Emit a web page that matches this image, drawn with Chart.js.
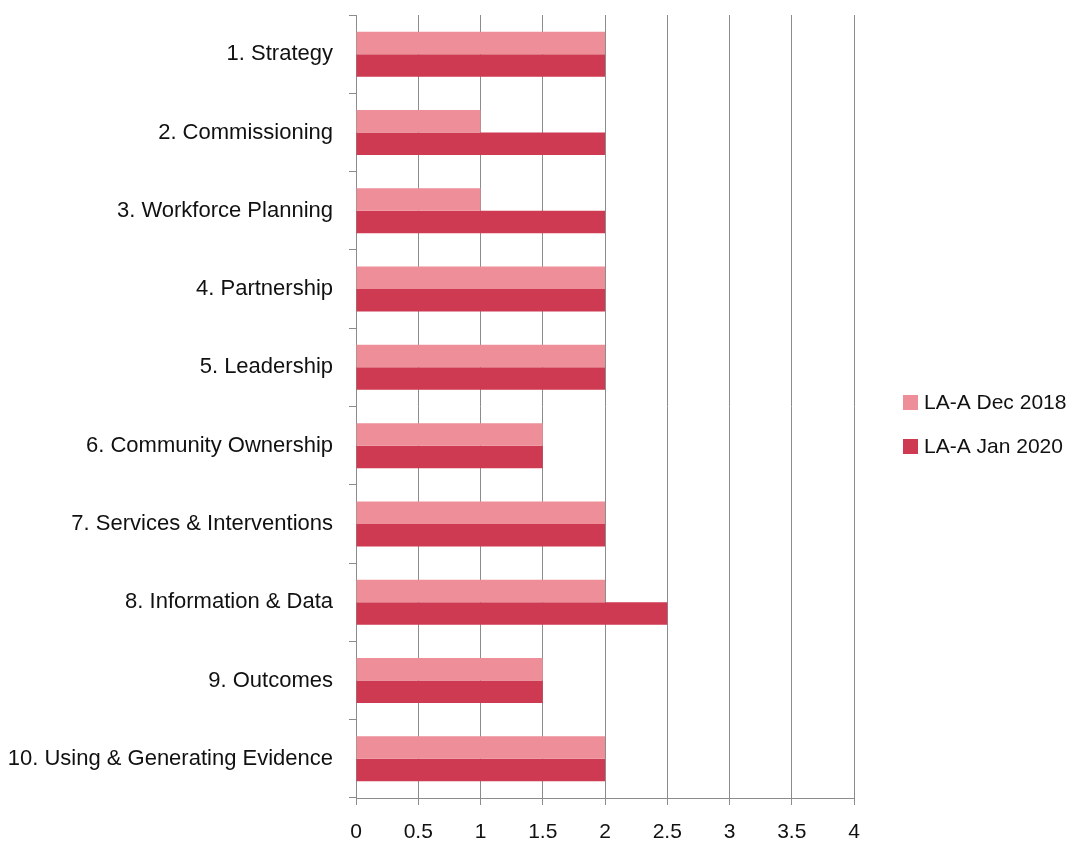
<!DOCTYPE html>
<html>
<head>
<meta charset="utf-8">
<script src="https://cdn.jsdelivr.net/npm/chart.js@4"></script>
<style>
  html, body { margin: 0; padding: 0; background: #fff; }
  #wrap { width: 1072px; height: 846px; }
</style>
</head>
<body>
<div id="wrap"><canvas id="barChartCanvas" width="1072" height="846"></canvas></div>
<script>
// categories and scores
var categories = [
  '1. Strategy',
  '2. Commissioning',
  '3. Workforce Planning',
  '4. Partnership',
  '5. Leadership',
  '6. Community Ownership',
  '7. Services & Interventions',
  '8. Information & Data',
  '9. Outcomes',
  '10. Using & Generating Evidence'
];
var dec2018 = [2, 1, 1, 2, 2, 1.5, 2, 2, 1.5, 2];
var jan2020 = [2, 2, 2, 2, 2, 1.5, 2, 2.5, 1.5, 2];
var seriesNames = ['LA-A Dec 2018', 'LA-A Jan 2020'];
var seriesColors = ['#ee8e98', '#ce3a52'];

var FONT = "'Liberation Sans', Arial, sans-serif";
var gridGrey = '#8c8c8c';
var textColor = '#111';

// legend drawn to the right of the plot, like the original (Excel style)
var sideLegend = {
  id: 'sideLegend',
  afterDraw: function (chart, args, opts) {
    var c = chart.ctx;
    var area = chart.chartArea;
    var x = area.right + opts.gap;
    var y0 = (area.top + area.bottom) / 2 - 4;
    c.save();
    c.font = opts.fontSize + 'px ' + FONT;
    c.textBaseline = 'middle';
    c.textAlign = 'left';
    chart.data.datasets.forEach(function (ds, i) {
      var y = y0 + i * opts.spacing;
      c.fillStyle = ds.backgroundColor;
      c.fillRect(x, y - opts.box / 2, opts.box, opts.box);
      c.fillStyle = textColor;
      c.fillText(ds.label, x + opts.box + 6, y + 1);
    });
    c.restore();
  }
};

var ctx = document.getElementById('barChartCanvas').getContext('2d');

var barChart = new Chart(ctx, {
  type: 'bar',
  data: {
    labels: categories,
    datasets: [{
      label: seriesNames[0],
      data: dec2018,
      backgroundColor: seriesColors[0],
      categoryPercentage: 0.575,
      barPercentage: 1.0
    }, {
      label: seriesNames[1],
      data: jan2020,
      backgroundColor: seriesColors[1],
      categoryPercentage: 0.575,
      barPercentage: 1.0
    }]
  },
  plugins: [sideLegend],
  options: {
    indexAxis: 'y',
    responsive: false,
    animation: false,
    maintainAspectRatio: false,
    layout: {
      padding: { top: 15, left: 0, right: 218, bottom: 0 }
    },
    plugins: {
      tooltip: { enabled: false },
      legend: { display: false },
      sideLegend: { gap: 49, spacing: 44, box: 15, fontSize: 21 }
    },
    scales: {
      x: {
        min: 0,
        max: 4,
        afterFit: function (scale) {
          scale.height = 48;
        },
        ticks: {
          stepSize: 0.5,
          color: textColor,
          font: { family: FONT, size: 21 },
          padding: 15,
          maxRotation: 0,
          callback: function (v) { return String(v); }
        },
        grid: {
          color: gridGrey,
          lineWidth: 1,
          tickLength: 7,
          drawTicks: true
        },
        border: { color: gridGrey, width: 1 }
      },
      y: {
        afterFit: function (scale) {
          scale.width = 356;
          scale.paddingTop = 0;
          scale.paddingBottom = 0;
        },
        ticks: {
          color: textColor,
          font: { family: FONT, size: 22 },
          padding: 16
        },
        grid: {
          offset: true,
          color: gridGrey,
          drawOnChartArea: false,
          drawTicks: true,
          tickLength: 7
        },
        border: { color: gridGrey, width: 1 }
      }
    }
  }
});
</script>
</body>
</html>
